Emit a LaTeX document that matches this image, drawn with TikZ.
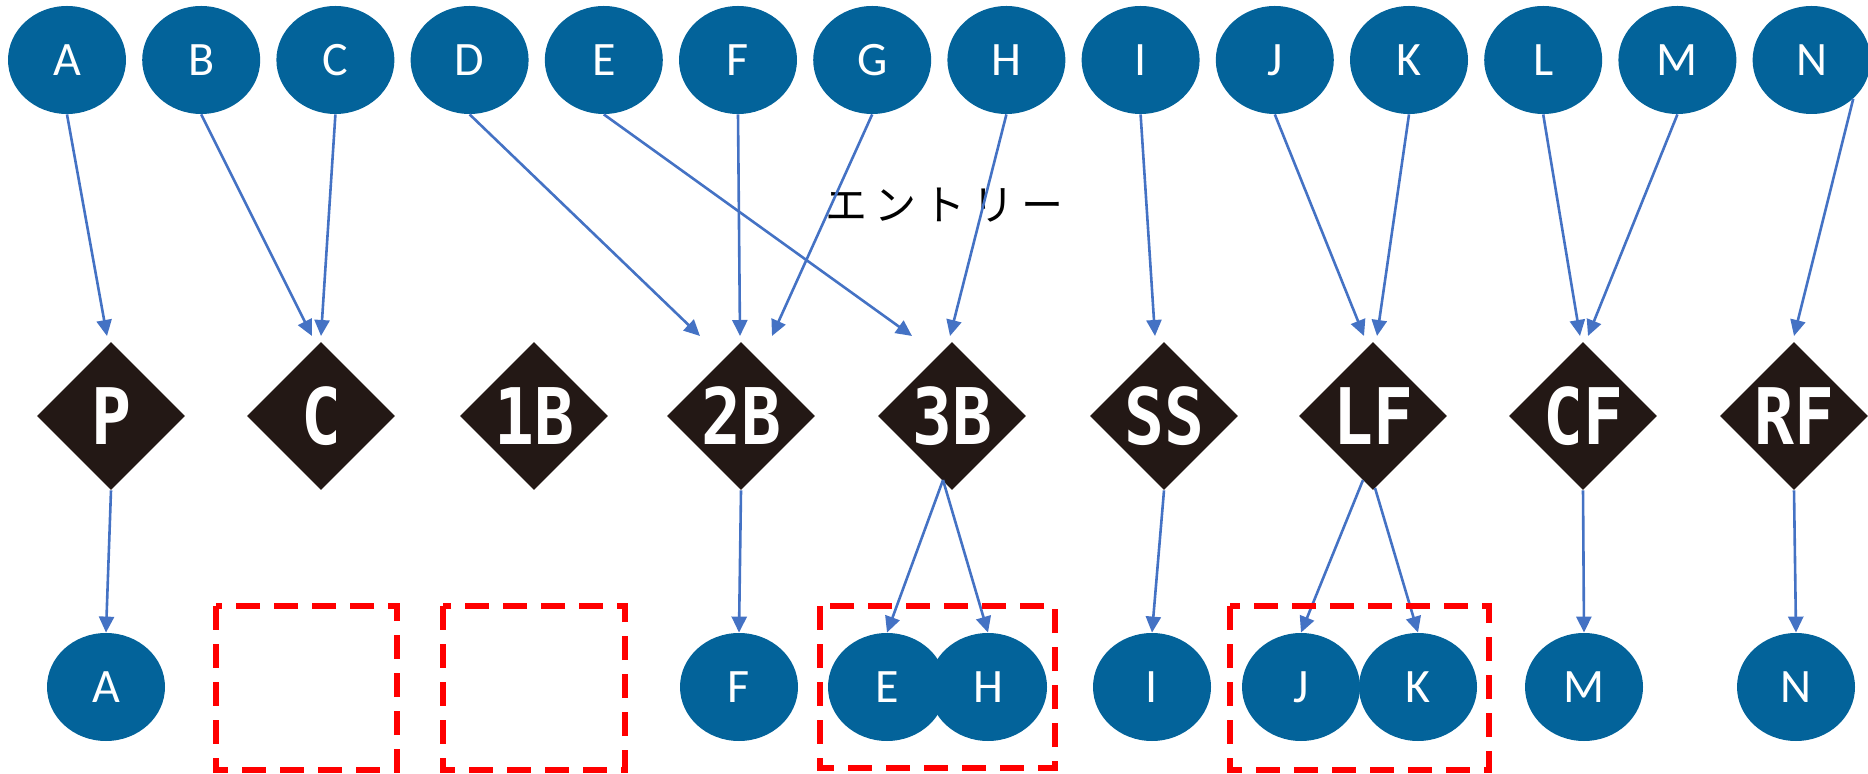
\documentclass[tikz,border=0pt]{standalone}
\usepackage{fontspec}
\setmainfont{Carlito}
\newfontfamily\jpfont{Noto Sans CJK JP}
\newfontfamily\diafont{DejaVu Sans Mono}
\usetikzlibrary{shapes.geometric,arrows.meta}
\definecolor{nodeblue}{RGB}{3,99,154}
\definecolor{diablack}{RGB}{35,24,21}
\definecolor{arrowblue}{RGB}{68,114,196}
\definecolor{boxred}{RGB}{255,0,0}
\tikzset{
  posnode/.style={ellipse, fill=nodeblue, minimum width=59pt, minimum height=54pt, inner sep=0pt,
    text=white, font=\fontsize{24}{24}\selectfont},
  rolenode/.style={diamond, aspect=1, fill=diablack, minimum width=74pt, minimum height=74pt,
    inner sep=0pt, text=white, font=\diafont\bfseries\fontsize{39}{39}\selectfont},
  linkarrow/.style={draw=arrowblue, line width=1.3pt, -{Triangle[length=8pt,width=7.5pt]}},
  grpbox/.style={draw=boxred, line width=3pt, dash pattern=on 12pt off 7pt},
}
\newcommand{\dlab}[1]{\scalebox{0.85}[1]{#1}}
\begin{document}
\begin{tikzpicture}[x=0.5pt,y=-0.5pt]
\useasboundingbox (0,0) rectangle (1868,774);
% top row
\foreach \n/\x in {A/67,B/201.2,C/335.4,D/469.6,E/603.8,F/738,G/872.2,H/1006.4,I/1140.6,J/1274.8,K/1409,L/1543.2,M/1677.4,N/1811.6}
  \node[posnode] (t\n) at (\x,60) {\n};
% diamonds
\node[rolenode] (dP)  at (111,416)  {\dlab{P}};
\node[rolenode] (dC)  at (321,416)  {\dlab{C}};
\node[rolenode] (d1B) at (534,416)  {\dlab{1B}};
\node[rolenode] (d2B) at (741,416)  {\dlab{2B}};
\node[rolenode] (d3B) at (952,416)  {\dlab{3B}};
\node[rolenode] (dSS) at (1164,416) {\dlab{SS}};
\node[rolenode] (dLF) at (1373,416) {\dlab{LF}};
\node[rolenode] (dCF) at (1583,416) {\dlab{CF}};
\node[rolenode] (dRF) at (1794,416) {\dlab{RF}};
% bottom row
\foreach \n/\x in {A/106,F/739,E/887,H/988,I/1152,J/1301,K/1418,M/1584,N/1796}
  \node[posnode] (b\n) at (\x,687) {\n};
% label
\node[anchor=west, inner sep=0pt, font=\jpfont\fontsize{21}{21}\selectfont] (lbl) at (825,205)
  {エ\hspace{3.5pt}ン\hspace{3.5pt}ト\hspace{3.5pt}リ\hspace{3.5pt}ー};
% arrow tip coordinates
\coordinate (pA) at (107,336);
\coordinate (pB) at (312,336);
\coordinate (pC) at (321,336);
\coordinate (pD) at (700,336);
\coordinate (pF) at (740,336);
\coordinate (pG) at (772,336);
\coordinate (pE) at (912,336);
\coordinate (pH) at (950,336);
\coordinate (pI) at (1155,336);
\coordinate (pJ) at (1364,336);
\coordinate (pK) at (1377,336);
\coordinate (pL) at (1580,336);
\coordinate (pM) at (1588,336);
\coordinate (pN) at (1794,336);
\foreach \n in {A,B,C,D,E,F,G,H,I,J,K,L,M}
  \draw[linkarrow] (t\n.south) -- (p\n);
\draw[linkarrow] (tN.-43) -- (pN);
% lower arrows
\coordinate (s3B) at (943,480);
\coordinate (sLFa) at (1363,480);
\coordinate (sLFb) at (1375,488);
\draw[linkarrow] (dP.south) -- (bA.north);
\draw[linkarrow] (d2B.south) -- (bF.north);
\draw[linkarrow] (s3B) -- (bE.north);
\draw[linkarrow] (s3B) -- (bH.north);
\draw[linkarrow] (dSS.south) -- (bI.north);
\draw[linkarrow] (sLFa) -- (bJ.north);
\draw[linkarrow] (sLFb) -- (bK.north);
\draw[linkarrow] (dCF.south) -- (bM.north);
\draw[linkarrow] (dRF.south) -- (bN.north);
% dashed group boxes
\draw[grpbox] (216,606) rectangle (397,770);
\draw[grpbox] (443,606) rectangle (625,770);
\draw[grpbox] (820,606) rectangle (1055,768);
\draw[grpbox] (1230,606) rectangle (1489,770);
\end{tikzpicture}
\end{document}
